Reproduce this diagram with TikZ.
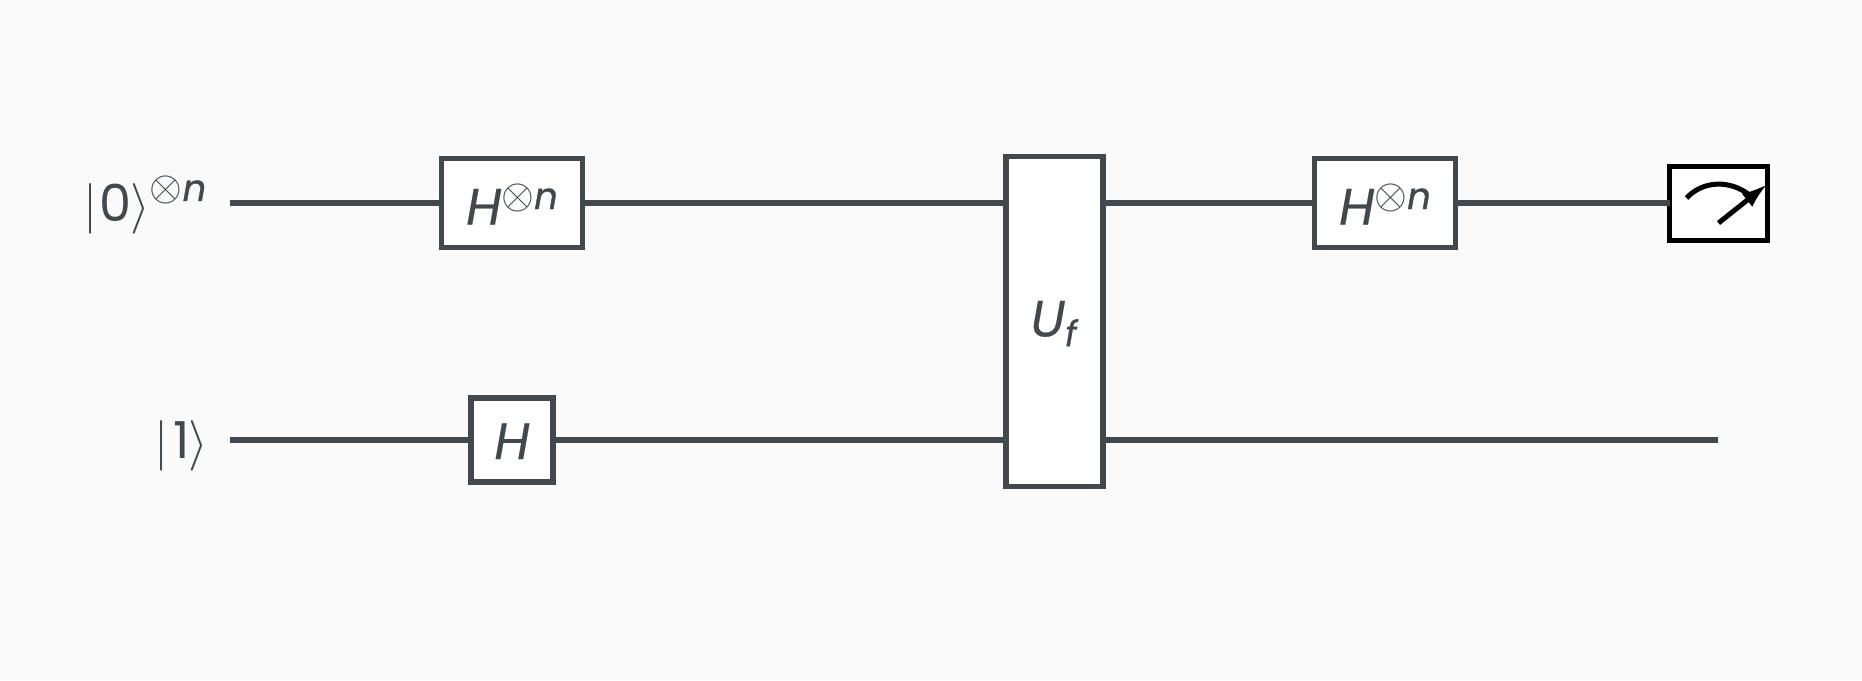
\documentclass[tikz,border=0pt]{standalone}
\usepackage{amsmath}
\usepackage{xcolor}
\usepackage{fontspec}
\setmainfont{Poppins}[ItalicFeatures={FakeBold=0.4}]
\newfontface\expofont{Poppins Italic}[FakeBold=1]
\usepackage{tikz}
\usetikzlibrary{arrows.meta,positioning,calc}
\definecolor{wiregray}{HTML}{41494E}
\definecolor{pagegray}{HTML}{FAFAFA}
\newcommand{\tensorpow}[2]{\raisebox{#1}{\fontsize{12.5}{14}\selectfont$\otimes$}\raisebox{#2}{\expofont\fontsize{10.5}{12}\selectfont n}}
\newcommand{\ketof}[1]{$|$\kern-0.3pt#1\kern-0.3pt$\rangle$}

\begin{document}
\begin{tikzpicture}[
    wire/.style={draw=wiregray,line width=0.053cm},
    gatebox/.style={draw=wiregray,fill=white,line width=0.053cm,outer sep=0pt,inner sep=0pt,
      text=wiregray,text depth=0pt,font=\fontsize{14.5}{16}\selectfont\itshape},
    ketlabel/.style={anchor=east,inner sep=0pt,outer xsep=0.22cm,text=wiregray,
      text height=0.36cm,text depth=0pt,font=\fontsize{14.5}{16}\selectfont},
    meterbox/.style={draw=black,fill=white,line width=0.05cm,outer sep=0pt,inner sep=0pt,
      minimum width=0.98cm,minimum height=0.74cm}]
  \fill[pagegray] (0,0) rectangle (18.62,6.8);
  % input labels
  \node[ketlabel] (ketzero) at (2.30,4.77) {\ketof{\kern0.8pt 0}\tensorpow{5.9pt}{5.7pt}\kern0.5pt};
  \node[ketlabel] (ketone) at (2.30,2.40) {\ketof{\kern1.5pt 1}};
  % gates
  \node[gatebox,text height=0.43cm,minimum width=1.41cm,minimum height=0.89cm] (hadzero) at (5.12,4.77) {H\tensorpow{4.5pt}{4.4pt}};
  \node[gatebox,text height=0.38cm,minimum width=0.82cm,minimum height=0.84cm] (hadone) at (5.12,2.40) {H};
  \node[gatebox,text height=0.30cm,minimum width=0.97cm,minimum height=3.30cm] (oracle) at (10.545,3.585) {U$_{\text{\itshape f}}$};
  \node[gatebox,text height=0.43cm,minimum width=1.41cm,minimum height=0.89cm] (hadtwo) at (13.85,4.77) {H\tensorpow{4.5pt}{4.4pt}};
  \node[meterbox] (meter) at (17.185,4.77) {};
  \coordinate (wireend) at (17.18,2.40);
  % wires
  \draw[wire] (ketzero.east) -- (hadzero.west);
  \draw[wire] (ketone.east) -- (hadone.west);
  \draw[wire] (hadzero.east) -- (hadzero.east -| oracle.west);
  \draw[wire] (hadone.east) -- (hadone.east -| oracle.west);
  \draw[wire] (hadzero.east -| oracle.east) -- (hadtwo.west);
  \draw[wire] (hadtwo.east) -- (meter.west);
  \draw[wire] (hadone.east -| oracle.east) -- (wireend);
  % meter dial
  \draw[line width=0.05cm] ($(meter.center)+(-0.32,0.05)$) .. controls ($(meter.center)+(-0.15,0.23)$) and ($(meter.center)+(0.12,0.23)$) .. ($(meter.center)+(0.31,0.08)$);
  \draw[line width=0.05cm,-{Latex[length=0.26cm,width=0.17cm]}] ($(meter.center)+(0,-0.2)$) -- ($(meter.center)+(0.49,0.19)$);
\end{tikzpicture}
\end{document}
